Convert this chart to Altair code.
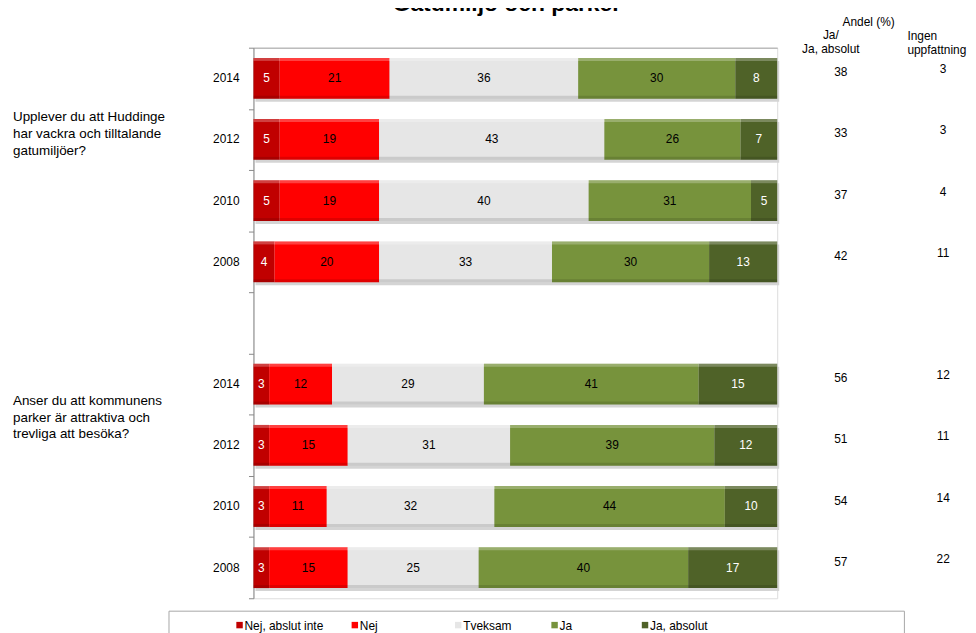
import altair as alt
import pandas as pd

# ---------------- data ----------------
categories = ["Nej, abslut inte", "Nej", "Tveksam", "Ja", "Ja, absolut"]
colors = ["#C00000", "#FF0000", "#E6E6E6", "#77933C", "#4F6228"]

q1 = "Upplever du att Huddinge\nhar vackra och tilltalande\ngatumiljöer?"
q2 = "Anser du att kommunens\nparker är attraktiva och\ntrevliga att besöka?"
years = ["2014", "2012", "2010", "2008"]

q1_values = [
    [5, 21, 36, 30, 8],
    [5, 19, 43, 26, 7],
    [5, 19, 40, 31, 5],
    [4, 20, 33, 30, 13],
]
q2_values = [
    [3, 12, 29, 41, 15],
    [3, 15, 31, 39, 12],
    [3, 11, 32, 44, 10],
    [3, 15, 25, 40, 17],
]
q1_ja_total = [38, 33, 37, 42]
q1_ingen = [3, 3, 4, 11]
q2_ja_total = [56, 51, 54, 57]
q2_ingen = [12, 11, 14, 22]

title_text = "Gatumiljö och parker"
FONT = "Liberation Sans"

# ---------------- build tables ----------------
# rows 0-3: question 1, row 4: empty gap, rows 5-8: question 2
rows = []
for gi, (vals, ja, ing) in enumerate([(q1_values, q1_ja_total, q1_ingen),
                                       (q2_values, q2_ja_total, q2_ingen)]):
    for yi, year in enumerate(years):
        rows.append(dict(idx=gi * 5 + yi, year=year, vals=vals[yi], ja=ja[yi], ingen=ing[yi]))

seg = []
rowdf = []
for r in rows:
    start = 0
    for c, v in zip(categories, r["vals"]):
        seg.append(dict(idx=r["idx"], cat=c, v=v, x0=start, x1=start + v,
                        mid=start + v / 2, y0=r["idx"] + 1 / 6, y1=r["idx"] + 5 / 6,
                        yc=r["idx"] + 0.5))
        start += v
    rowdf.append(dict(idx=r["idx"], year=r["year"], ja=str(r["ja"]), ingen=str(r["ingen"]),
                      y0=r["idx"] + 1 / 6, y1=r["idx"] + 5 / 6, yc=r["idx"] + 0.5,
                      x0=0, x1=100))
seg = pd.DataFrame(seg)
rowdf = pd.DataFrame(rowdf)

W, H = 527, 554
xs = alt.Scale(domain=[0, 100], nice=False, zero=True)
ys = alt.Scale(domain=[0, 9], reverse=True, nice=False, zero=False)

base_seg = alt.Chart(seg)
base_row = alt.Chart(rowdf)

# shadow behind each bar row
shadow = base_row.mark_rect(color="#D4D4D4", xOffset=2, yOffset=3, x2Offset=2, y2Offset=3).encode(
    x=alt.X("x0:Q", scale=xs, axis=alt.Axis(orient="top", labels=False, ticks=False, grid=False,
                                             domainColor="#A6A6A6", title=None)),
    x2="x1:Q",
    y=alt.Y("y0:Q", scale=ys, axis=alt.Axis(values=list(range(10)), labels=False, grid=False,
                                             tickSize=5, tickColor="#888888", domainColor="#888888",
                                             title=None)),
    y2="y1:Q",
)

bars = base_seg.mark_rect().encode(
    x=alt.X("x0:Q", scale=xs),
    x2="x1:Q",
    y=alt.Y("y0:Q", scale=ys),
    y2="y1:Q",
    color=alt.Color("cat:N", scale=alt.Scale(domain=categories, range=colors), legend=None),
)

# bevel highlight on top and darker bottom edge
hl = base_seg.mark_rect(color="white", opacity=0.25, y2Offset=3).encode(
    x="x0:Q", x2="x1:Q", y="y0:Q", y2="y0:Q")
dk = base_seg.mark_rect(color="black", opacity=0.12, yOffset=-3).encode(
    x="x0:Q", x2="x1:Q", y="y1:Q", y2="y1:Q")

seg_text = base_seg.mark_text(font=FONT, fontSize=12, baseline="middle", align="center").encode(
    x="mid:Q",
    y="yc:Q",
    text="v:Q",
    color=alt.condition("datum.cat == 'Nej, abslut inte' || datum.cat == 'Ja, absolut'",
                        alt.value("white"), alt.value("black")),
)

year_text = base_row.mark_text(font=FONT, fontSize=12, align="right", baseline="middle",
                               color="black").encode(
    x=alt.value(-14), y="yc:Q", text="year:N")

ja_text = base_row.mark_text(font=FONT, fontSize=12, align="center", baseline="middle",
                             color="black", dy=-6).encode(
    x=alt.value(591), y="yc:Q", text="ja:N")
ing_text = base_row.mark_text(font=FONT, fontSize=12, align="center", baseline="middle",
                              color="black", dy=-9).encode(
    x=alt.value(694), y="yc:Q", text="ingen:N")

# question labels (y gives first line position)
qdf = pd.DataFrame({"q": [q1, q2], "yq": [1.137, 5.77]})
q_text = alt.Chart(qdf).mark_text(font=FONT, fontSize=13.5, align="left", baseline="middle",
                                  lineBreak="\n", lineHeight=17, color="black").encode(
    x=alt.value(-242), y=alt.Y("yq:Q", scale=ys), text="q:N")

# header texts
hdr = alt.Chart(pd.DataFrame({"t": ["Andel (%)"]})).mark_text(
    font=FONT, fontSize=12, align="center", baseline="middle", color="black").encode(
    x=alt.value(619), y=alt.value(-26), text="t:N")
hdr2 = alt.Chart(pd.DataFrame({"t": ["Ja/\nJa, absolut"]})).mark_text(
    font=FONT, fontSize=12, align="center", baseline="middle", lineBreak="\n", lineHeight=14,
    color="black").encode(x=alt.value(581), y=alt.value(-13), text="t:N")
hdr3 = alt.Chart(pd.DataFrame({"t": ["Ingen\nuppfattning"]})).mark_text(
    font=FONT, fontSize=12, align="left", baseline="middle", lineBreak="\n", lineHeight=14,
    color="black").encode(x=alt.value(658), y=alt.value(-12), text="t:N")

title = alt.Chart(pd.DataFrame({"t": [title_text]})).mark_text(
    font=FONT, fontSize=23, fontWeight="bold", align="center", baseline="alphabetic",
    color="black").encode(x=alt.value(255), y=alt.value(-37), text="t:N")

# legend (drawn manually, box partly cut off at page bottom)
LEG_X = [-14, 102, 206, 303, 394]
LEG_Y = 582
legdf = pd.DataFrame({"cat": categories, "lx": LEG_X})
leg_box = alt.Chart(pd.DataFrame({"a": [0]})).mark_rect(
    fill="white", stroke="#A6A6A6", strokeWidth=1).encode(
    x=alt.value(-85), x2=alt.value(655), y=alt.value(567), y2=alt.value(620))
leg_sym = alt.Chart(legdf).mark_square(size=42, opacity=1).encode(
    x=alt.X("lx:Q", scale=None), y=alt.value(LEG_Y - 1),
    color=alt.Color("cat:N", scale=alt.Scale(domain=categories, range=colors), legend=None))
leg_txt = alt.Chart(legdf).mark_text(font=FONT, fontSize=12, align="left", baseline="middle",
                                     color="black", dx=5).encode(
    x=alt.X("lx:Q", scale=None), y=alt.value(LEG_Y), text="cat:N")

chart = alt.layer(
    shadow, bars, hl, dk, seg_text, year_text, ja_text, ing_text, q_text,
    hdr, hdr2, hdr3, title, leg_box, leg_sym, leg_txt
).properties(
    width=W, height=H,
    autosize=alt.AutoSizeParams(type="none"),
    padding={"left": 247, "top": 38, "right": 192, "bottom": 33},
).configure_view(stroke=None).configure(background="white")

chart.save("out.html", embed_options={"renderer": "svg", "actions": False})
